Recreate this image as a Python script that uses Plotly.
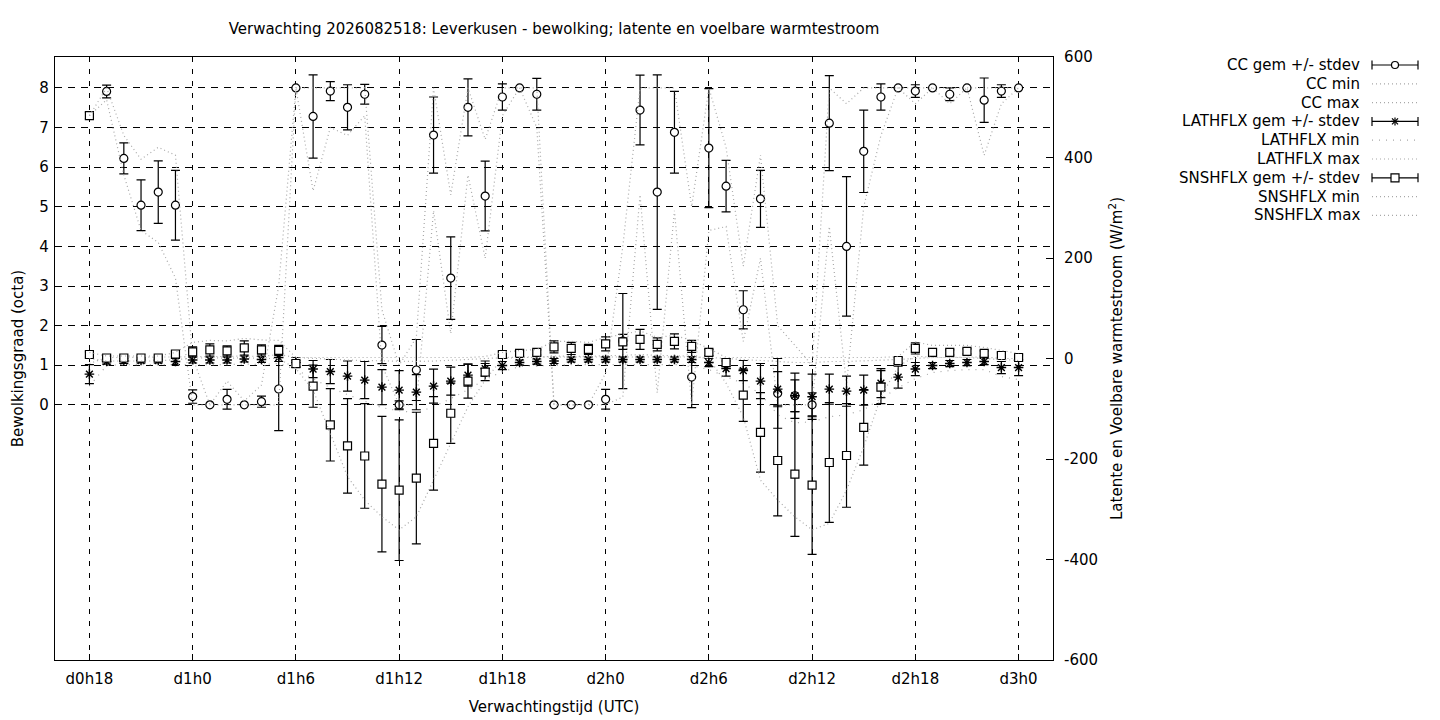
import plotly.graph_objects as go

# lead time index in hours from d0h18
uur = list(range(55))
tick_pos = [0, 6, 12, 18, 24, 30, 36, 42, 48, 54]
tick_lbl = ["d0h18", "d1h0", "d1h6", "d1h12", "d1h18", "d2h0", "d2h6", "d2h12", "d2h18", "d3h0"]
y2_ticks = [-600, -400, -200, 0, 200, 400, 600]
y2_lbl = ["-600", "-400", "-200", "0", "200", "400", "600"]

# bewolking (octa)
cc_gem = [7.30, 7.91, 6.22, 5.04, 5.37, 5.04, 0.21, 0.00, 0.14, 0.00, 0.08, 0.40,
          8.00, 7.28, 7.92, 7.51, 7.84, 1.51, 0.00, 0.88, 6.81, 3.20, 7.51, 5.27,
          7.77, 8.00, 7.84, 0.00, 0.00, 0.00, 0.14, 1.61, 7.44, 5.37, 6.88, 0.70,
          6.48, 5.52, 2.40, 5.20, 0.29, 0.23, 0.00, 7.11, 4.00, 6.40, 7.77, 8.00,
          7.92, 8.00, 7.84, 8.00, 7.69, 7.92, 8.00]
cc_std = [0.08, 0.16, 0.39, 0.64, 0.79, 0.88, 0.17, 0.00, 0.25, 0.00, 0.14, 1.05,
          0.00, 1.05, 0.24, 0.57, 0.25, 0.47, 0.10, 0.77, 0.96, 1.04, 0.72, 0.88,
          0.33, 0.00, 0.40, 0.00, 0.00, 0.00, 0.25, 1.20, 0.88, 2.96, 1.03, 0.77,
          1.50, 0.65, 0.48, 0.72, 0.88, 0.40, 0.30, 1.20, 1.76, 1.04, 0.33, 0.00,
          0.16, 0.00, 0.16, 0.00, 0.56, 0.16, 0.00]
cc_min = [7.3, 7.7, 5.8, 4.4, 4.1, 3.2, 0.0, 0.0, 0.0, 0.0, 0.0, 0.0,
          8.0, 5.4, 7.0, 6.8, 7.3, 1.0, 0.0, 0.0, 4.9, 1.8, 5.8, 3.7,
          7.3, 8.0, 7.0, 0.0, 0.0, 0.0, 0.0, 0.2, 5.3, 0.3, 4.9, 0.0,
          4.4, 4.5, 1.6, 3.7, 0.0, 0.0, 0.0, 4.5, 0.5, 5.0, 6.8, 8.0,
          7.6, 8.0, 7.6, 8.0, 6.3, 7.6, 8.0]
cc_max = [7.3, 8.0, 6.8, 6.2, 6.5, 6.3, 1.2, 0.0, 0.6, 0.1, 0.5, 3.0,
          8.0, 8.0, 8.0, 8.0, 8.0, 2.4, 1.0, 1.7, 8.0, 5.3, 8.0, 6.7,
          8.0, 8.0, 8.0, 0.0, 0.0, 0.0, 0.8, 4.0, 8.0, 8.0, 8.0, 5.0,
          8.0, 6.5, 3.5, 6.3, 2.0, 1.5, 1.0, 8.0, 7.6, 8.0, 8.0, 8.0,
          8.0, 8.0, 8.0, 8.0, 8.0, 8.0, 8.0]

# latente warmtestroom (W/m2)
lat_gem = [-31, -6, -5, -4, -4, -6, -3, -3, -3, -1, -2, 2,
           -8, -21, -26, -35, -43, -57, -63, -67, -55, -45, -33, -20,
           -14, -8, -6, -5, -2, -2, -2, -2, -2, -2, -2, -2,
           -8, -20, -24, -45, -61, -74, -76, -61, -65, -63, -49, -37,
           -21, -14, -10, -8, -6, -18, -18]
lat_std = [19, 5, 5, 5, 5, 6, 6, 6, 6, 6, 6, 8,
           10, 17, 24, 30, 37, 35, 39, 35, 34, 28, 22, 15,
           8, 5, 5, 5, 5, 5, 5, 5, 5, 5, 5, 6,
           8, 15, 20, 35, 35, 45, 45, 30, 30, 30, 29, 22,
           13, 6, 6, 6, 6, 12, 16]
lat_min = [-55, -14, -12, -12, -12, -13, -12, -12, -12, -11, -12, -10,
           -22, -40, -58, -72, -85, -98, -104, -108, -96, -80, -62, -42,
           -26, -16, -14, -14, -12, -12, -12, -12, -12, -12, -12, -14,
           -22, -36, -50, -70, -112, -128, -126, -116, -112, -102, -80, -58,
           -40, -28, -24, -22, -22, -36, -42]
lat_max = [-10, 2, 2, 3, 3, 3, 4, 4, 4, 5, 4, 8,
           2, 0, -2, -3, -4, -5, -6, -6, -5, -4, -2, 0,
           2, 3, 3, 3, 4, 4, 4, 4, 4, 4, 4, 3,
           2, 0, -2, -4, -6, -8, -8, -6, -6, -5, -4, -2,
           0, 2, 2, 3, 3, 0, 0]

# voelbare warmtestroom (W/m2)
sns_gem = [8, 1, 1, 1, 1, 9, 13, 17, 15, 21, 17, 16,
           -10, -55, -132, -174, -194, -250, -262, -238, -169, -109, -45, -27,
           8, 10, 12, 23, 20, 18, 29, 33, 38, 28, 34, 24,
           12, -8, -73, -147, -203, -230, -252, -207, -193, -137, -57, -4,
           20, 12, 12, 14, 10, 6, 2]
sns_std = [5, 4, 4, 4, 4, 5, 10, 12, 10, 14, 10, 10,
           6, 42, 72, 94, 104, 135, 140, 131, 93, 60, 34, 17,
           5, 5, 5, 12, 12, 10, 14, 15, 20, 13, 15, 12,
           6, 8, 52, 79, 110, 124, 138, 119, 103, 75, 33, 6,
           11, 5, 5, 5, 5, 5, 5]
sns_min = [0, -5, -5, -5, -5, -2, 0, 2, 0, 2, 0, 0,
           -20, -63, -149, -235, -282, -315, -341, -315, -242, -169, -96, -43,
           0, 2, 2, 5, 4, 4, 6, 6, 8, 6, 6, 4,
           0, -49, -116, -242, -282, -315, -341, -328, -262, -176, -76, -16,
           5, 2, 2, 2, 0, -2, -4]
sns_max = [12, 5, 5, 5, 5, 12, 32, 36, 35, 40, 37, 36,
           2, 2, 2, 2, 2, 2, 2, 2, 2, 2, 2, 4,
           12, 16, 18, 34, 34, 32, 42, 48, 55, 42, 46, 36,
           20, 2, 2, 2, 2, 2, 2, 2, 2, 2, 2, 4,
           33, 26, 26, 26, 22, 16, 10]

FONT = "DejaVu Sans"
GREY = "#a8a8a8"


def err_bar(vals):
    return dict(type="data", array=vals, visible=True, color="black", thickness=1.2, width=4.5)


fig = go.Figure()

cc_symbols = ["square"] + ["circle"] * (len(uur) - 1)

fig.add_trace(go.Scatter(x=uur, y=cc_gem, mode="markers", error_y=err_bar(cc_std),
                         marker=dict(symbol=cc_symbols, size=8, color="white",
                                     line=dict(color="black", width=1.2))))
fig.add_trace(go.Scatter(x=uur, y=cc_min, mode="lines", line=dict(color=GREY, width=1.2, dash="1px,3px")))
fig.add_trace(go.Scatter(x=uur, y=cc_max, mode="lines", line=dict(color=GREY, width=1.2, dash="1px,3px")))

fig.add_trace(go.Scatter(x=uur, y=lat_gem, yaxis="y2", mode="markers", error_y=err_bar(lat_std),
                         marker=dict(symbol="asterisk-open", size=8, color="black",
                                     line=dict(color="black", width=1.4))))
fig.add_trace(go.Scatter(x=uur, y=lat_min, yaxis="y2", mode="lines", line=dict(color=GREY, width=1.2, dash="1px,6px")))
fig.add_trace(go.Scatter(x=uur, y=lat_max, yaxis="y2", mode="lines", line=dict(color=GREY, width=1.2, dash="1px,3px")))

fig.add_trace(go.Scatter(x=uur, y=sns_gem, yaxis="y2", mode="markers", error_y=err_bar(sns_std),
                         marker=dict(symbol="square", size=8, color="white",
                                     line=dict(color="black", width=1.2))))
fig.add_trace(go.Scatter(x=uur, y=sns_min, yaxis="y2", mode="lines", line=dict(color=GREY, width=1.2, dash="1px,3px")))
fig.add_trace(go.Scatter(x=uur, y=sns_max, yaxis="y2", mode="lines", line=dict(color=GREY, width=1.2, dash="1px,3px")))

# hand-made legend in the right margin (text first, sample after, like gnuplot)
L, R, T, B = 55, 1053, 57, 660


def px(xp):
    return (xp - L) / (R - L)


def py(yp):
    return (B - yp) / (B - T)


legend_rows = [
    ("CC gem +/- stdev", "circle"),
    ("CC min", "dot"),
    ("CC max", "dot"),
    ("LATHFLX gem +/- stdev", "star"),
    ("LATHFLX min", "sparse"),
    ("LATHFLX max", "dot"),
    ("SNSHFLX gem +/- stdev", "square"),
    ("SNSHFLX min", "dot"),
    ("SNSHFLX max", "dot"),
]

shapes = []
annotations = []
x0s, x1s, xm = px(1372), px(1418), px(1395)
for i, (txt, kind) in enumerate(legend_rows):
    yr = py(65 + i * 18.8)
    annotations.append(dict(text=txt, x=px(1362), y=yr, xref="paper", yref="paper",
                            xanchor="right", yanchor="middle", showarrow=False,
                            font=dict(family=FONT, size=15, color="black")))
    if kind in ("dot", "sparse"):
        shapes.append(dict(type="line", xref="paper", yref="paper", x0=x0s, x1=x1s, y0=yr, y1=yr,
                           line=dict(color=GREY, width=1.2, dash="1px,3px" if kind == "dot" else "1px,6px")))
        continue
    shapes.append(dict(type="line", xref="paper", yref="paper", x0=x0s, x1=x1s, y0=yr, y1=yr,
                       line=dict(color="black", width=1.2)))
    for xc in (x0s, x1s):
        shapes.append(dict(type="line", xref="paper", yref="paper", xsizemode="pixel", ysizemode="pixel",
                           xanchor=xc, yanchor=yr, x0=0, x1=0, y0=-4.5, y1=4.5,
                           line=dict(color="black", width=1.2)))
    if kind == "circle":
        shapes.append(dict(type="circle", xref="paper", yref="paper", xsizemode="pixel", ysizemode="pixel",
                           xanchor=xm, yanchor=yr, x0=-3.5, x1=3.5, y0=-3.5, y1=3.5,
                           fillcolor="white", line=dict(color="black", width=1.2)))
    elif kind == "square":
        shapes.append(dict(type="rect", xref="paper", yref="paper", xsizemode="pixel", ysizemode="pixel",
                           xanchor=xm, yanchor=yr, x0=-4, x1=4, y0=-4, y1=4,
                           fillcolor="white", line=dict(color="black", width=1.2)))
    else:
        for dx, dy in ((4, 0), (0, 4), (3, 3), (3, -3)):
            shapes.append(dict(type="line", xref="paper", yref="paper", xsizemode="pixel", ysizemode="pixel",
                               xanchor=xm, yanchor=yr, x0=-dx, x1=dx, y0=-dy, y1=dy,
                               line=dict(color="black", width=1.2)))

title_font = dict(family=FONT, size=15, color="black")

fig.update_layout(
    width=1440, height=720,
    margin=dict(l=L, r=1440 - R, t=T, b=720 - B, autoexpand=False),
    paper_bgcolor="white", plot_bgcolor="white",
    font=dict(family=FONT, size=15, color="black"),
    showlegend=False,
    title=dict(text="Verwachting 2026082518: Leverkusen - bewolking; latente en voelbare warmtestroom",
               x=0.5, xref="paper", xanchor="center", y=1 - 29 / 720, yanchor="middle",
               font=title_font),
    xaxis=dict(range=[-2, 56], tickvals=tick_pos, ticktext=tick_lbl, automargin=False,
               showgrid=True, gridcolor="black", gridwidth=1, griddash="5px,7px",
               showline=True, linecolor="black", linewidth=1.2, mirror=True,
               ticks="inside", ticklen=6, tickcolor="black", zeroline=False,
               ticklabelstandoff=5,
               title=dict(text="Verwachtingstijd (UTC)", standoff=14, font=title_font)),
    yaxis=dict(range=[-6.44, 8.78], tickvals=[0, 1, 2, 3, 4, 5, 6, 7, 8], automargin=False,
               showgrid=True, gridcolor="black", gridwidth=1, griddash="7px,6px",
               showline=True, linecolor="black", linewidth=1.2, mirror=True,
               ticks="inside", ticklen=6, tickcolor="black", zeroline=False,
               ticklabelstandoff=2,
               title=dict(text="Bewolkingsgraad (octa)", standoff=12, font=title_font)),
    yaxis2=dict(range=[-600, 600], tickvals=y2_ticks, ticktext=y2_lbl, automargin=False,
                overlaying="y", side="right", showgrid=False,
                showline=True, linecolor="black", linewidth=1.2,
                ticks="inside", ticklen=7, tickcolor="black", zeroline=False,
                ticklabelstandoff=7,
                title=dict(text="Latente en Voelbare warmtestroom (W/m<sup>2</sup>)", standoff=14,
                           font=title_font)),
    shapes=shapes,
    annotations=annotations,
)

fig.write_html("out.html", config={"displayModeBar": False},
               post_script="document.body.style.margin='0';")
